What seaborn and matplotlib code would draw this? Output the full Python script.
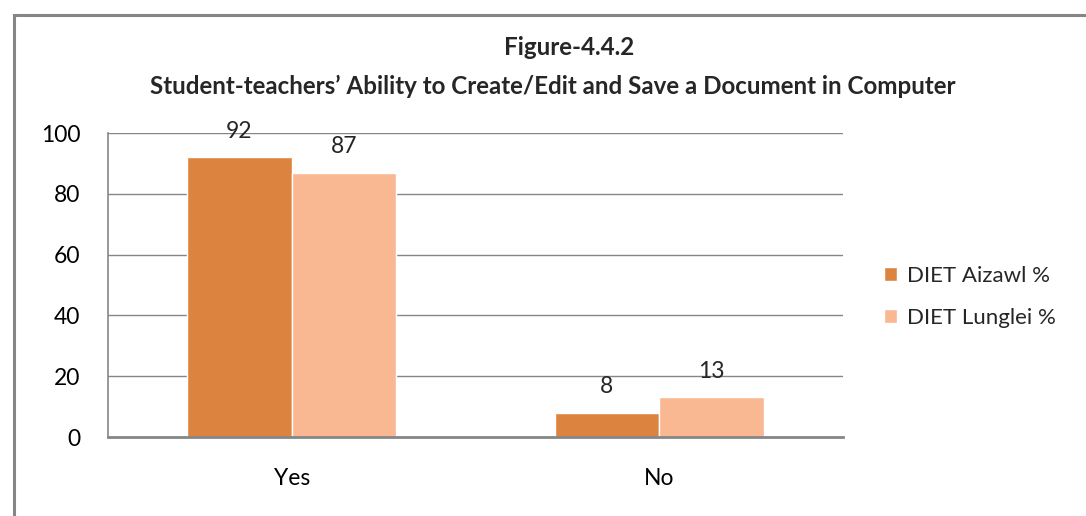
import matplotlib
matplotlib.use("Agg")
import matplotlib.pyplot as plt
import seaborn as sns
import pandas as pd
from matplotlib.patches import Rectangle

categories = ["Yes", "No"]
series_names = ["DIET Aizawl %", "DIET Lunglei %"]
aizawl = [92, 8]
lunglei = [87, 13]
colors = ["#DC843F", "#F9B792"]
title_lines = ["Figure-4.4.2", "Student-teachers\u2019 Ability to Create/Edit and Save a Document in Computer"]

df = pd.DataFrame({
    "cat": categories * 2,
    "series": [series_names[0]] * 2 + [series_names[1]] * 2,
    "val": aizawl + lunglei,
})

sns.set_theme(style="white")
plt.rcParams["font.family"] = ["Lato", "DejaVu Sans"]

fig = plt.figure(figsize=(10.86, 5.16), dpi=100)
ax = fig.add_axes([108 / 1086, 1 - 437 / 516, (843 - 108) / 1086, (437 - 133) / 516])

sns.barplot(data=df, x="cat", y="val", hue="series", palette=colors,
            width=0.57, saturation=1, ax=ax, legend=True, gap=0)

ax.set_ylim(0, 100)
ax.set_yticks([0, 20, 40, 60, 80, 100])
ax.yaxis.grid(True, color="#868686", linewidth=1)
ax.set_axisbelow(True)
for s in ["top", "right"]:
    ax.spines[s].set_visible(False)
for s in ["left", "bottom"]:
    ax.spines[s].set_color("#868686")
    ax.spines[s].set_linewidth(1.2)
ax.spines["bottom"].set_linewidth(2)
ax.tick_params(axis="both", length=0, labelsize=16.5, colors="black")
ax.tick_params(axis="y", pad=20)
ax.tick_params(axis="x", pad=22)
ax.set_xlabel("")
ax.set_ylabel("")

for cont in ax.containers:
    ax.bar_label(cont, fmt="%d", fontsize=16.5, padding=11)

leg = ax.legend(loc="center left", bbox_to_anchor=(1.028, 0.46), frameon=False,
                fontsize=16, handlelength=0.6, handleheight=0.6, handletextpad=0.45,
                labelspacing=1.0)

fig.text(0.5 + 26 / 1086, 1 - 48 / 516, title_lines[0], ha="center", va="center",
         fontsize=17.4, fontweight="bold")
fig.text(0.5 + 10 / 1086, 1 - 86 / 516, title_lines[1], ha="center", va="center",
         fontsize=17.4, fontweight="bold")

fig.patches.append(Rectangle((14 / 1086, -0.1), 1.2, 1 - 15 / 516 + 0.1,
                             transform=fig.transFigure, fill=False,
                             edgecolor="#868686", linewidth=2.2))

fig.savefig("out.png", dpi=100)
